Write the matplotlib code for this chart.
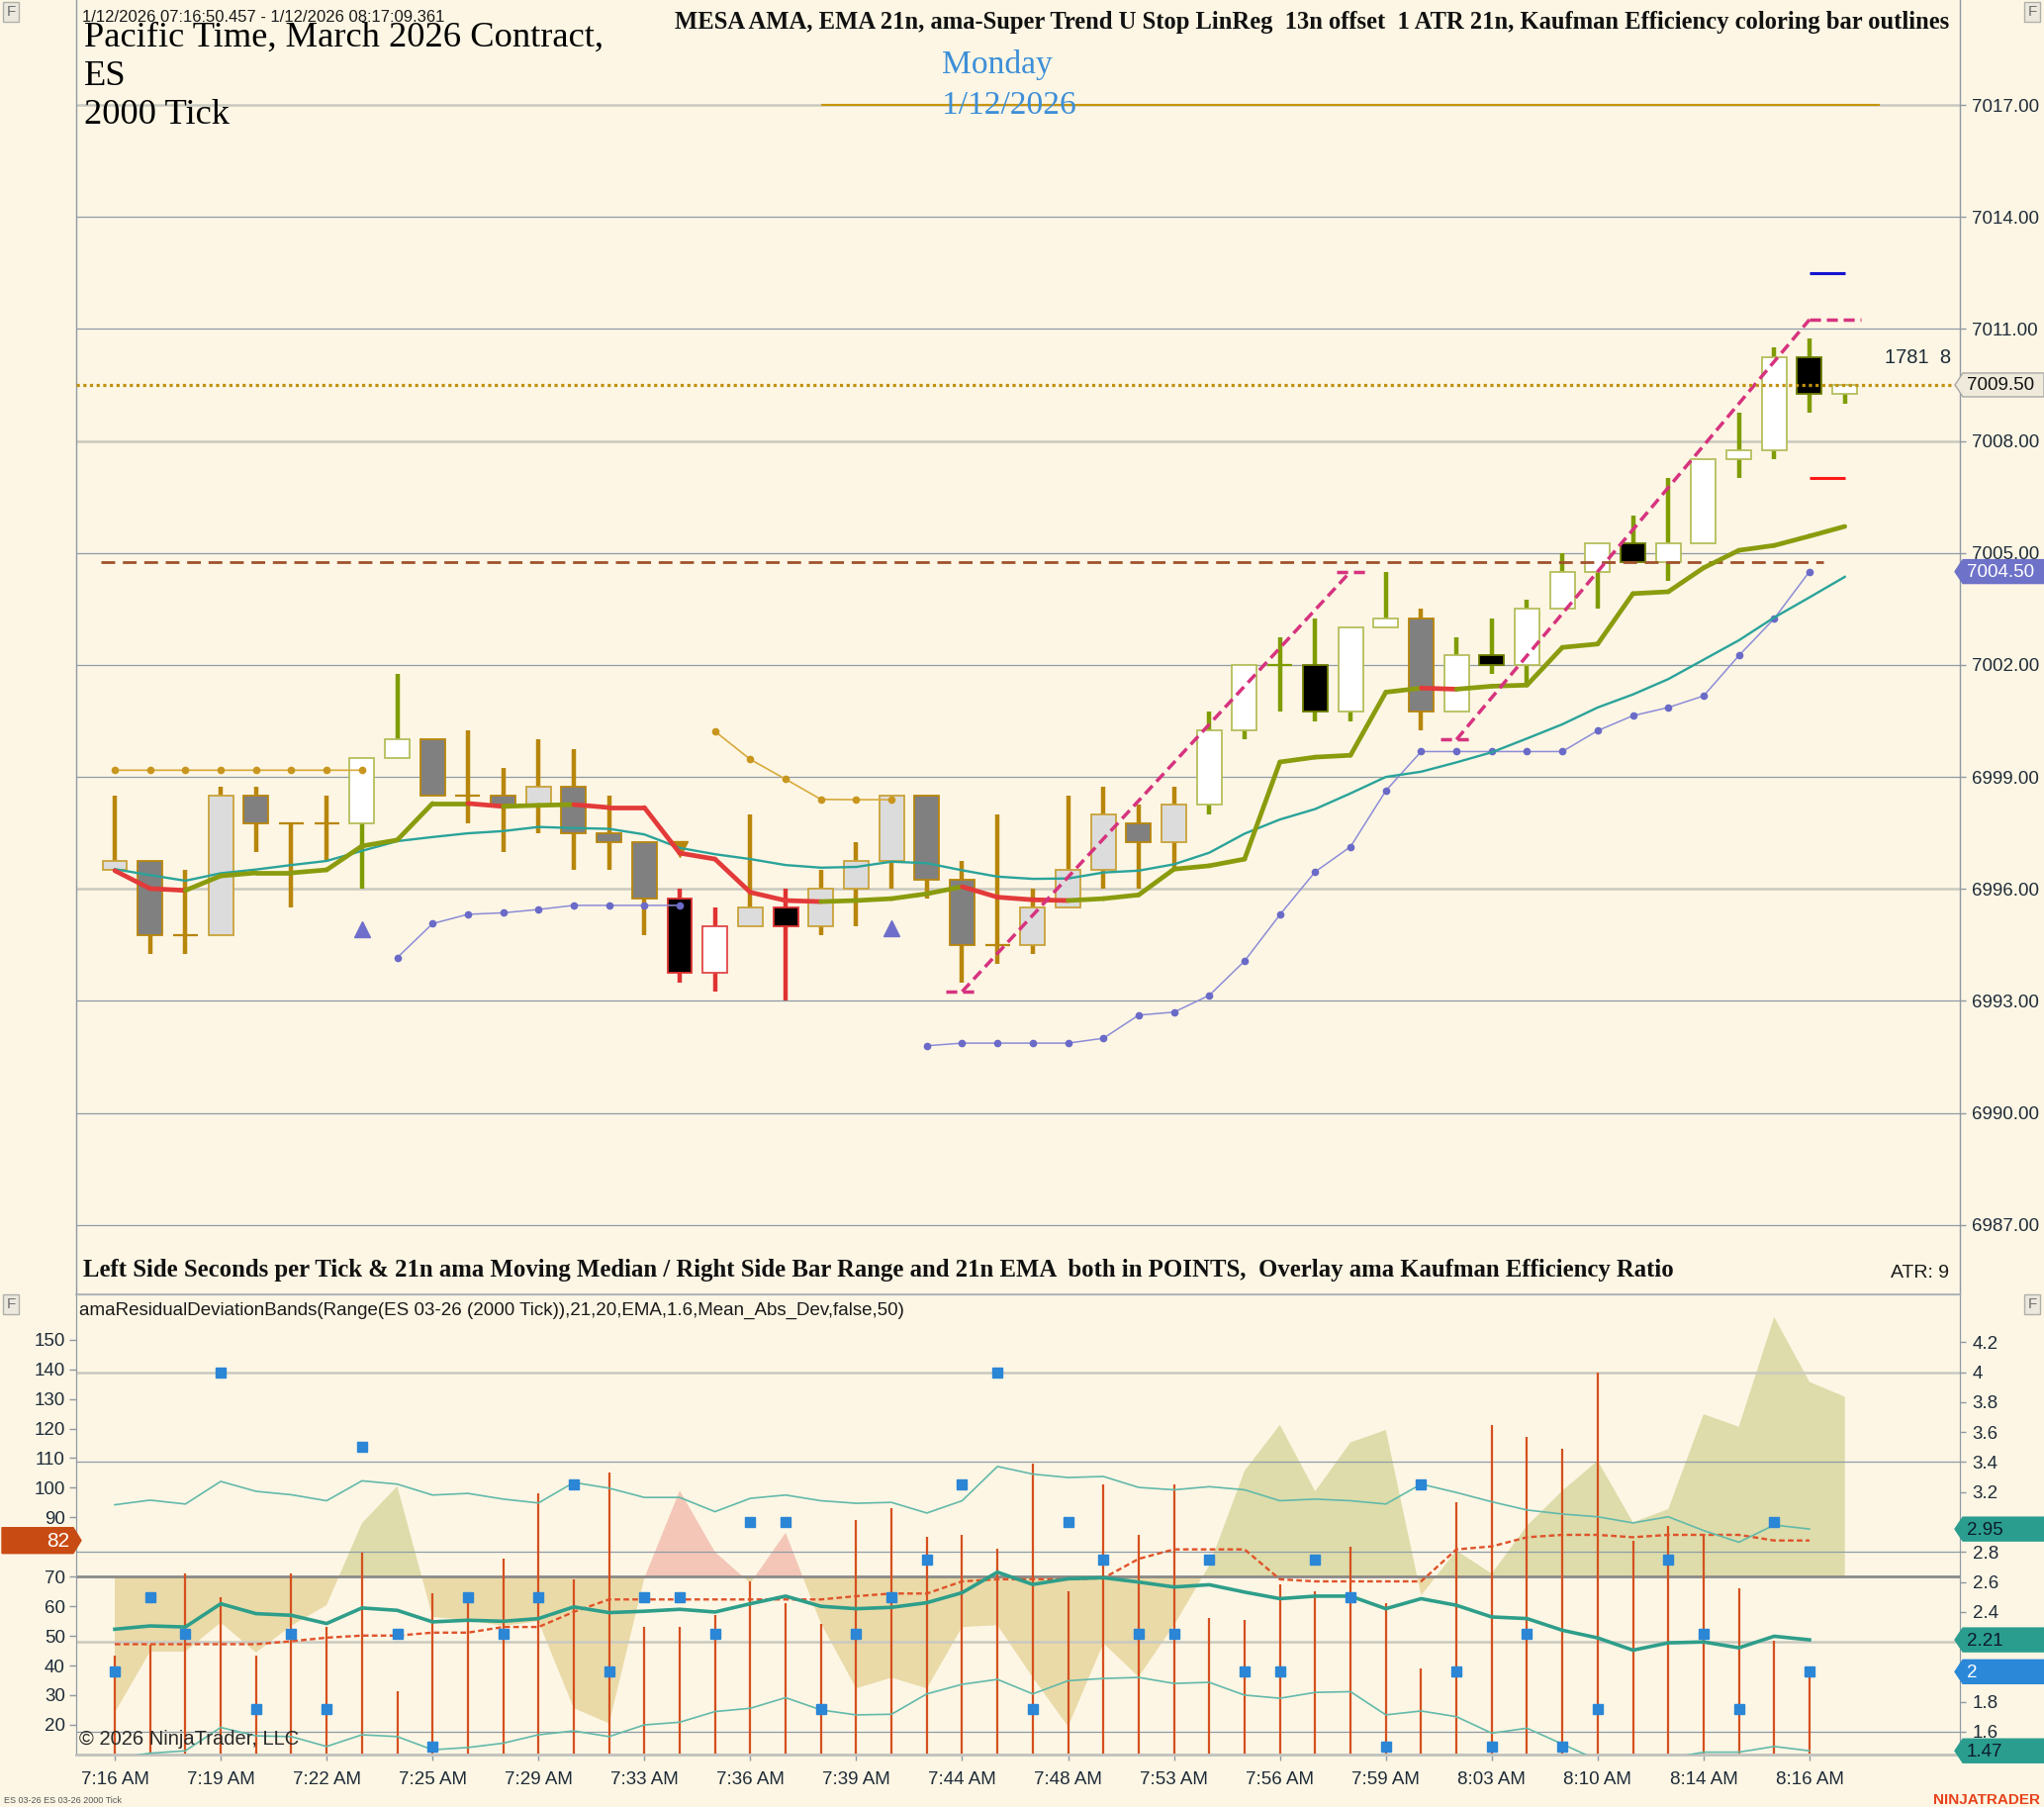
import numpy as np
import matplotlib
matplotlib.use("Agg")
import matplotlib.pyplot as plt
from matplotlib.patches import Rectangle, Polygon
from matplotlib.transforms import IdentityTransform
from matplotlib.ticker import FixedLocator, FuncFormatter

plt.rcParams['font.family'] = ['Liberation Sans', 'DejaVu Sans']

# ---------------------------------------------------------------- data
time_labels = ['7:16 AM', '7:19 AM', '7:22 AM', '7:25 AM', '7:29 AM', '7:33 AM',
               '7:36 AM', '7:39 AM', '7:44 AM', '7:48 AM', '7:53 AM', '7:56 AM',
               '7:59 AM', '8:03 AM', '8:10 AM', '8:14 AM', '8:16 AM']

opens = [6996.5, 6996.75, 6994.75, 6994.75, 6998.5, 6997.75, 6997.75, 6997.75, 6999.5, 7000.0,
         6998.5, 6998.5, 6998.25, 6998.75, 6997.5, 6997.25, 6995.75, 6993.75, 6995.0, 6995.5,
         6995.0, 6996.0, 6996.75, 6998.5, 6996.25, 6994.5, 6994.5, 6995.5, 6996.5, 6997.75,
         6997.25, 6998.25, 7000.25, 7002.0, 7002.0, 7000.75, 7003.0, 7003.25, 7000.75, 7002.25,
         7002.0, 7003.5, 7004.5, 7005.25, 7004.75, 7005.25, 7007.5, 7007.75, 7010.25, 7009.25]
highs = [6998.5, 6996.75, 6996.5, 6998.75, 6998.75, 6997.75, 6998.5, 6999.5, 7001.75, 7000.0,
         7000.25, 6999.25, 7000.0, 6999.75, 6998.5, 6997.25, 6996.0, 6995.5, 6998.0, 6996.0,
         6996.5, 6997.25, 6998.5, 6998.5, 6996.75, 6998.0, 6996.0, 6998.5, 6998.75, 6998.25,
         6998.75, 7000.75, 7002.0, 7002.75, 7003.25, 7003.0, 7004.5, 7003.5, 7002.75, 7003.25,
         7003.75, 7005.0, 7005.25, 7006.0, 7007.0, 7007.5, 7008.75, 7010.5, 7010.75, 7009.5]
lows = [6996.5, 6994.25, 6994.25, 6994.75, 6997.0, 6995.5, 6996.75, 6996.0, 6999.5, 6998.5,
        6997.75, 6997.0, 6997.5, 6996.5, 6996.5, 6994.75, 6993.5, 6993.25, 6995.0, 6993.0,
        6994.75, 6995.0, 6996.0, 6995.75, 6993.5, 6994.0, 6994.25, 6995.5, 6996.0, 6996.0,
        6996.5, 6998.0, 7000.0, 7000.75, 7000.5, 7000.5, 7003.0, 7000.25, 7000.75, 7001.75,
        7001.5, 7003.5, 7003.5, 7004.75, 7004.25, 7005.25, 7007.0, 7007.5, 7008.75, 7009.0]
closes = [6996.75, 6994.75, 6994.75, 6998.5, 6997.75, 6997.75, 6997.75, 6999.5, 7000.0, 6998.5,
          6998.5, 6998.25, 6998.75, 6997.5, 6997.25, 6995.75, 6993.75, 6995.0, 6995.5, 6995.0,
          6996.0, 6996.75, 6998.5, 6996.25, 6994.5, 6994.5, 6995.5, 6996.5, 6998.0, 6997.25,
          6998.25, 7000.25, 7002.0, 7002.0, 7000.75, 7003.0, 7003.25, 7000.75, 7002.25, 7002.0,
          7003.5, 7004.5, 7005.25, 7004.75, 7005.25, 7007.5, 7007.75, 7010.25, 7009.25, 7009.5]

# MESA AMA (thick line) and its trend state per segment
ama = [6996.49, 6996.01, 6995.96, 6996.35, 6996.43, 6996.43, 6996.51, 6997.15, 6997.31, 6998.29,
       6998.29, 6998.21, 6998.24, 6998.26, 6998.18, 6998.18, 6996.96, 6996.80, 6995.91, 6995.69,
       6995.66, 6995.69, 6995.74, 6995.87, 6996.06, 6995.78, 6995.71, 6995.69, 6995.74, 6995.84,
       6996.53, 6996.62, 6996.80, 6999.40, 6999.53, 6999.58, 7001.27, 7001.38, 7001.35, 7001.43,
       7001.46, 7002.47, 7002.56, 7003.91, 7003.96, 7004.60, 7005.07, 7005.20, 7005.45, 7005.71]
ama_trend = ['d', 'd', 'u', 'u', 'u', 'u', 'u', 'u', 'u', 'u',
             'd', 'u', 'u', 'd', 'd', 'd', 'd', 'd', 'd', 'd',
             'u', 'u', 'u', 'u', 'd', 'd', 'd', 'u', 'u', 'u',
             'u', 'u', 'u', 'u', 'u', 'u', 'u', 'd', 'u', 'u',
             'u', 'u', 'u', 'u', 'u', 'u', 'u', 'u', 'u', 'u']

ema21 = [6996.53, 6996.37, 6996.22, 6996.42, 6996.52, 6996.64, 6996.75, 6997.02, 6997.28, 6997.39,
         6997.49, 6997.55, 6997.66, 6997.63, 6997.61, 6997.46, 6997.10, 6996.93, 6996.80, 6996.64,
         6996.57, 6996.59, 6996.73, 6996.69, 6996.50, 6996.33, 6996.27, 6996.28, 6996.44, 6996.49,
         6996.66, 6996.97, 6997.48, 6997.86, 6998.14, 6998.56, 6999.00, 6999.14, 6999.39, 6999.66,
         7000.03, 7000.41, 7000.86, 7001.21, 7001.62, 7002.14, 7002.66, 7003.27, 7003.81, 7004.36]

N = None
stop_upper = [6999.18, 6999.18, 6999.18, 6999.18, 6999.18, 6999.18, 6999.18, 6999.18, N, N,
              N, N, N, N, N, N, N, 7000.22, 6999.47, 6998.94,
              6998.40, 6998.39, 6998.39, N, N, N, N, N, N, N,
              N, N, N, N, N, N, N, N, N, N,
              N, N, N, N, N, N, N, N, N, N]
stop_lower = [N, N, N, N, N, N, N, N, 6994.16, 6995.07,
              6995.32, 6995.36, 6995.45, 6995.56, 6995.56, 6995.56, 6995.56, N, N, N,
              N, N, N, 6991.80, 6991.87, 6991.87, 6991.87, 6991.87, 6992.00, 6992.62,
              6992.70, 6993.15, 6994.07, 6995.31, 6996.46, 6997.13, 6998.63, 6999.68, 6999.68, 6999.68,
              6999.68, 6999.68, 7000.24, 7000.64, 7000.86, 7001.17, 7002.25, 7003.24, 7004.50, N]

signal_up_bars = [7, 22]
signal_up_price = [6994.93, 6994.95]
signal_dn_bars = [16]
signal_dn_price = [6997.07]

linreg_start_bar = [24, 38]
linreg_end_bar = [35, 48]
linreg_start_price = [6993.25, 7000.0]
linreg_end_price = [7004.5, 7011.25]

level_brown = 7004.75
level_gold = 7017.0
target_high = 7012.5
target_low = 7007.0
price_ticks = [6987.0, 6990.0, 6993.0, 6996.0, 6999.0, 7002.0, 7005.0, 7008.0, 7011.0, 7014.0, 7017.0]

# lower panel
sec_per_tick = [43.2, 47.1, 71.2, 63.1, 43.2, 71.2, 53.0, 78.1, 31.2, 64.3,
                62.6, 76.0, 98.2, 69.1, 105.2, 53.0, 53.0, 57.0, 68.4, 61.1,
                53.9, 89.1, 93.0, 83.3, 84.1, 79.4, 108.0, 65.1, 101.0, 84.1,
                101.0, 56.2, 55.3, 67.3, 65.1, 80.0, 60.9, 39.0, 95.1, 121.2,
                117.2, 113.0, 139.0, 82.2, 87.2, 84.1, 65.9, 48.2, 37.9]
spt_median = [47.2, 47.2, 47.2, 47.2, 47.2, 48.2, 49.4, 50.1, 50.1, 51.1,
              51.1, 53.0, 53.0, 58.1, 62.3, 62.3, 62.3, 62.3, 62.3, 62.3,
              62.3, 63.4, 64.3, 64.3, 68.4, 69.1, 69.1, 69.1, 69.5, 76.0,
              79.2, 79.2, 79.2, 69.1, 68.4, 68.4, 68.4, 68.4, 79.2, 80.2,
              83.3, 84.1, 84.1, 83.3, 84.1, 84.1, 84.1, 82.2, 82.2]
bar_range = [2.0, 2.5, 2.25, 4.0, 1.75, 2.25, 1.75, 3.5, 2.25, 1.5,
             2.5, 2.25, 2.5, 3.25, 2.0, 2.5, 2.5, 2.25, 3.0, 3.0,
             1.75, 2.25, 2.5, 2.75, 3.25, 4.0, 1.75, 3.0, 2.75, 2.25,
             2.25, 2.75, 2.0, 2.0, 2.75, 2.5, 1.5, 3.25, 2.0, 1.5,
             2.25, 1.5, 1.75, 1.25, 2.75, 2.25, 1.75, 3.0, 2.0]
range_ema = [2.284, 2.306, 2.299, 2.454, 2.388, 2.377, 2.322, 2.426, 2.410, 2.333,
             2.344, 2.337, 2.355, 2.433, 2.395, 2.404, 2.417, 2.399, 2.454, 2.505,
             2.437, 2.421, 2.430, 2.461, 2.528, 2.665, 2.583, 2.621, 2.628, 2.599,
             2.566, 2.581, 2.532, 2.488, 2.505, 2.505, 2.421, 2.488, 2.444, 2.366,
             2.355, 2.277, 2.226, 2.144, 2.193, 2.199, 2.160, 2.237, 2.213]
band_upper = [3.115, 3.146, 3.120, 3.271, 3.205, 3.182, 3.142, 3.275, 3.253, 3.180,
              3.191, 3.153, 3.127, 3.264, 3.226, 3.164, 3.164, 3.069, 3.158, 3.180,
              3.142, 3.125, 3.131, 3.060, 3.142, 3.371, 3.320, 3.297, 3.304, 3.231,
              3.215, 3.236, 3.215, 3.142, 3.153, 3.142, 3.120, 3.253, 3.197, 3.135,
              3.080, 3.053, 3.035, 2.994, 3.035, 2.943, 2.865, 2.980, 2.953]
band_lower = [1.420, 1.456, 1.472, 1.628, 1.572, 1.567, 1.501, 1.579, 1.567, 1.479,
              1.494, 1.523, 1.579, 1.605, 1.567, 1.645, 1.663, 1.734, 1.756, 1.827,
              1.745, 1.712, 1.716, 1.852, 1.916, 1.949, 1.852, 1.940, 1.955, 1.962,
              1.922, 1.929, 1.844, 1.823, 1.862, 1.867, 1.712, 1.738, 1.700, 1.590,
              1.623, 1.517, 1.410, 1.390, 1.420, 1.463, 1.463, 1.501, 1.472]
eff_ratio = [24.1, 44.7, 44.7, 54.5, 44.4, 53.4, 60.4, 88.0, 100.5, 56.4,
             55.3, 53.4, 54.9, 25.6, 20.5, 69.5, 99.0, 78.3, 67.8, 84.8,
             54.2, 32.3, 35.9, 32.3, 53.0, 53.6, 36.0, 19.4, 47.5, 36.2,
             53.6, 73.8, 105.7, 121.2, 98.8, 115.3, 119.5, 63.7, 78.8, 71.0,
             87.2, 99.0, 109.1, 88.3, 92.8, 124.8, 120.6, 157.6, 135.7, 130.7]
eff_dir = [1] * 15 + [-1] * 6 + [1] * 29
eff_base = 70.0
left_ticks = [20, 30, 40, 50, 60, 70, 80, 90, 100, 110, 120, 130, 140, 150]
right_ticks = [1.6, 1.8, 2.0, 2.2, 2.4, 2.6, 2.8, 3.0, 3.2, 3.4, 3.6, 3.8, 4.0, 4.2]
left_hidden = [80]              # tick labels covered by value tags
right_hidden = [2.0, 2.2, 3.0]

# ---------------------------------------------------------------- styles
bar_tone = ['lg', 'dg', 'doji', 'lg', 'dg', 'doji', 'doji', 'white', 'white', 'dg',
            'doji', 'dg', 'lg', 'dg', 'dg', 'dg', 'black', 'white', 'lg', 'black',
            'lg', 'lg', 'lg', 'dg', 'dg', 'doji', 'lg', 'lg', 'lg', 'dg',
            'lg', 'white', 'white', 'doji', 'black', 'white', 'white', 'dg', 'white', 'black',
            'white', 'white', 'white', 'black', 'white', 'white', 'white', 'white', 'black', 'white']
bar_outline = ['g'] * 7 + ['o', 'o'] + ['g'] * 7 + ['r', 'r', 'g', 'r'] + ['g'] * 11 + ['o'] * 6 + ['g'] + ['o'] * 12

BG = '#FDF6E4'
WICK = {'g': '#B8860B', 'o': '#7F9C00', 'r': '#E03232'}
BODY = {'lg': '#DCDCDC', 'dg': '#808080', 'white': '#FFFFFF', 'black': '#000000'}
EDGE = {('lg', 'g'): '#C9A23A', ('dg', 'g'): '#B8860B', ('white', 'o'): '#B5BE5C',
        ('black', 'o'): '#6F7E00', ('black', 'r'): '#E03232', ('white', 'r'): '#E04848',
        ('white', 'g'): '#C9A23A'}
GRID_DARK = '#8E9CA6'
GRID_LIGHT = '#C9C9C0'
AXCOL = '#8F9AA3'
TXT = '#1E2B38'

W, H = 2066, 1826
fig = plt.figure(figsize=(W / 100, H / 100), dpi=100, facecolor=BG)

X_LEFT, X_RIGHT = 77, 1981
Y_SPLIT, Y_BOTTOM = 1308, 1773
ax = fig.add_axes([X_LEFT / W, 1 - Y_SPLIT / H, (X_RIGHT - X_LEFT) / W, Y_SPLIT / H])
axl = fig.add_axes([X_LEFT / W, 1 - Y_BOTTOM / H, (X_RIGHT - X_LEFT) / W, (Y_BOTTOM - Y_SPLIT) / H])
axr = axl.twinx()

xlim = (-1.093, 52.26)
x = np.arange(len(opens))

# ---------------------------------------------------------------- main panel
ax.set_facecolor(BG)
ax.set_xlim(*xlim)
ax.set_ylim(6985.14, 7019.81)
ax.set_xticks([])
ax.yaxis.tick_right()
ax.yaxis.set_major_locator(FixedLocator(price_ticks))
ax.yaxis.set_major_formatter(FuncFormatter(lambda v, p: f"{v:.2f}"))
ax.tick_params(axis='y', direction='out', length=4, width=1, color=AXCOL, pad=5,
               labelsize=13.5, labelcolor=TXT)
ax.spines['top'].set_visible(False)
for s in ('left', 'right'):
    ax.spines[s].set_color(AXCOL)
    ax.spines[s].set_linewidth(1.0)
ax.spines['bottom'].set_color('#A9B1B8')
ax.spines['bottom'].set_linewidth(1.2)

light_levels = [7017.0, 7008.0, 6996.0]
for p in price_ticks:
    if p in light_levels:
        ax.axhline(p, color=GRID_LIGHT, lw=1.8, zorder=0.5)
    else:
        ax.axhline(p, color=GRID_DARK, lw=0.9, zorder=0.5)

# candles
bw = 0.70
for i in range(len(opens)):
    o, h, l, c = opens[i], highs[i], lows[i], closes[i]
    tone, oc = bar_tone[i], bar_outline[i]
    wc = WICK[oc]
    ax.vlines(i, l, h, color=wc, lw=3.2, zorder=2)
    if tone == 'doji' or o == c:
        ax.hlines(o, i - bw / 2, i + bw / 2, color=wc, lw=1.6, zorder=3)
    else:
        ec = EDGE.get((tone, oc), wc)
        ax.add_patch(Rectangle((i - bw / 2, min(o, c)), bw, abs(c - o), facecolor=BODY[tone],
                               edgecolor=ec, lw=1.3, zorder=3))

# levels
ax.hlines(level_gold, 20.0, 50.0, color='#C8960C', lw=1.5, zorder=1)
ax.hlines(level_brown, -0.4, 48.4, color='#A0522D', lw=2.0, linestyles=(0, (5.0, 2.8)), zorder=5)

# stops
su = np.array([np.nan if v is None else v for v in stop_upper])
sl = np.array([np.nan if v is None else v for v in stop_lower])
ax.plot(x, su, color='#D8AA3C', lw=1.2, marker='o', ms=4.5, mfc='#C8961E', mec='#C8961E', zorder=6)
ax.plot(x, sl, color='#8C8CD8', lw=1.1, marker='o', ms=4.5, mfc='#6A6AC8', mec='#6A6AC8', zorder=6)

# EMA 21
ax.plot(x, ema21, color='#2AA39A', lw=1.7, zorder=6)

# signals
ax.plot(signal_dn_bars, signal_dn_price, 'v', color='#B8860B', ms=11, zorder=5)
ax.plot(signal_up_bars, signal_up_price, '^', color='#6F6FCB', ms=12, zorder=6)

# MESA AMA thick line with trend colours
for i in range(len(ama) - 1):
    col = '#8A9C0E' if ama_trend[i] == 'u' else '#E33A3A'
    ax.plot([i, i + 1], [ama[i], ama[i + 1]], color=col, lw=3.4, solid_capstyle='round', zorder=7)

# LinReg lines
for k in range(len(linreg_start_bar)):
    s0, s1 = linreg_start_bar[k], linreg_end_bar[k]
    p0, p1 = linreg_start_price[k], linreg_end_price[k]
    kw = dict(color='#D6337F', lw=2.5, linestyle=(0, (3.2, 1.7)), zorder=8)
    ax.plot([s0 - 0.45, s0 + 0.5], [p0, p0], **kw)
    ax.plot([s0, s1], [p0, p1], **kw)
    right_end = s1 + (1.45 if k == 1 else 0.5)
    ax.plot([s1 - (0 if k == 1 else 0.4), right_end], [p1, p1], **kw)

# targets on last bars
ax.hlines(target_high, 48, 49, color='#1515D0', lw=2.2, zorder=8)
ax.hlines(target_low, 48, 49, color='#FF1A1A', lw=2.2, zorder=8)

# current price line
ax.axhline(closes[-1], color='#C09010', lw=2.3, linestyle=(0, (1, 1.1)), zorder=9)

# ---------------------------------------------------------------- lower panel
axl.set_facecolor(BG)
axl.set_xlim(*xlim)
axl.set_ylim(9.95, 165.26)
axr.set_ylim(1.447, 4.52)
axl.yaxis.set_major_locator(FixedLocator(left_ticks))
axl.yaxis.set_major_formatter(FuncFormatter(
    lambda v, p: '' if any(abs(v - h) < 1e-6 for h in left_hidden) else f"{v:.0f}"))
axr.yaxis.set_major_locator(FixedLocator(right_ticks))
axr.yaxis.set_major_formatter(FuncFormatter(
    lambda v, p: '' if any(abs(v - h) < 1e-6 for h in right_hidden) else f"{round(v, 2):g}"))
axl.set_xticks(x[::3][:len(time_labels)])
axl.set_xticklabels(time_labels)
axl.tick_params(axis='x', direction='out', length=4, width=1, color=AXCOL, pad=8,
                labelsize=13.5, labelcolor=TXT)
axl.tick_params(axis='y', direction='out', length=5, width=1, color=AXCOL, pad=3,
                labelsize=13.5, labelcolor=TXT)
axr.tick_params(axis='y', direction='out', length=4, width=1, color=AXCOL, pad=5,
                labelsize=13.5, labelcolor=TXT)
for a in (axl, axr):
    a.spines['top'].set_color('#A9B1B8')
    a.spines['left'].set_color(AXCOL)
    a.spines['right'].set_color(AXCOL)
    a.spines['bottom'].set_color('#C4C4BE')
    a.spines['bottom'].set_linewidth(2.0)

l0, l1 = axl.get_ylim()
r0, r1 = axr.get_ylim()
def r2l(v):
    return l0 + (v - r0) / (r1 - r0) * (l1 - l0)

er = np.array(eff_ratio)
xe = np.arange(len(er))
dirs = np.array(eff_dir)
axl.fill_between(xe, er, eff_base, where=(er <= eff_base), interpolate=True,
                 color='#EADAA8', lw=0, zorder=0.6)
axl.fill_between(xe, er, eff_base, where=(er >= eff_base) & (dirs > 0), interpolate=True,
                 color='#DDDCAA', lw=0, zorder=0.6)
axl.fill_between(xe, er, eff_base, where=(er >= eff_base) & (dirs < 0), interpolate=True,
                 color='#F3C6B8', lw=0, zorder=0.6)

for v, light in [(4.0, True), (3.4, False), (2.8, False), (2.2, True), (1.6, False)]:
    if light:
        axl.axhline(r2l(v), color=GRID_LIGHT, lw=1.8, zorder=1)
    else:
        axl.axhline(r2l(v), color=GRID_DARK, lw=0.9, zorder=1)
axl.axhline(eff_base, color='#8A8A88', lw=2.0, zorder=1)

xs = np.arange(len(sec_per_tick))
axl.vlines(xs, l0, sec_per_tick, color='#D5501E', lw=1.6, zorder=2)
axl.plot(np.arange(len(spt_median)), spt_median, color='#E0522A', lw=1.7,
         linestyle=(0, (2.4, 1.4)), zorder=3)

xr = np.arange(len(range_ema))
axr.plot(xr, band_upper, color='#63B9AA', lw=1.2, zorder=3)
axr.plot(xr, band_lower, color='#63B9AA', lw=1.2, zorder=3)
axr.plot(xr, range_ema, color='#2E9E8A', lw=2.6, zorder=4)
axr.plot(np.arange(len(bar_range)), bar_range, 's', ms=7.2, color='#2B86D6', zorder=5)

# ---------------------------------------------------------------- value tags
ID = IdentityTransform()

def tag_right(a, val, text, fc, tc, ec=None, tip=1976, end=2066, hh=12):
    yd = a.transData.transform((0, val))[1]
    verts = [(tip, yd), (tip + 8, yd + hh), (end, yd + hh), (end, yd - hh), (tip + 8, yd - hh)]
    fig.add_artist(Polygon(verts, closed=True, transform=ID, facecolor=fc,
                           edgecolor=ec or fc, lw=1, zorder=20))
    fig.text(tip + 12, yd - 1, text, transform=ID, ha='left', va='center', fontsize=13.5,
             color=tc, zorder=21)

def tag_left(a, val, text, fc, tc, start=2, tip=82, hh=13):
    yd = a.transData.transform((0, val))[1]
    verts = [(start, yd - hh), (start, yd + hh), (tip - 8, yd + hh), (tip, yd), (tip - 8, yd - hh)]
    fig.add_artist(Polygon(verts, closed=True, transform=ID, facecolor=fc,
                           edgecolor=fc, lw=1, zorder=20))
    fig.text(tip - 12, yd - 1, text, transform=ID, ha='right', va='center', fontsize=15,
             color=tc, zorder=21)

tag_right(ax, closes[-1], f"{closes[-1]:.2f}", '#EFEADB', '#111111', ec='#A8A8A8')
tag_right(ax, stop_lower[-2], f"{stop_lower[-2]:.2f}", '#6E72C8', '#FFFFFF')
tag_right(axr, band_upper[-1], f"{band_upper[-1]:.2f}", '#2A9D8F', '#0D1B2A')
tag_right(axr, range_ema[-1], f"{range_ema[-1]:.2f}", '#2A9D8F', '#0D1B2A')
tag_right(axr, bar_range[-1], f"{bar_range[-1]:g}", '#2B88D8', '#FFFFFF')
tag_right(axr, band_lower[-1], f"{band_lower[-1]:.2f}", '#2A9D8F', '#0D1B2A')
tag_left(axl, spt_median[-1], f"{spt_median[-1]:.0f}", '#C84B14', '#FFFFFF')

# ---------------------------------------------------------------- texts
def ftext(px, py, s, **kw):
    return fig.text(px / W, 1 - py / H, s, **kw)

renderer = fig.canvas.get_renderer()
def fit(t, width_px):
    bb = t.get_window_extent(renderer=renderer)
    t.set_fontsize(t.get_fontsize() * width_px / bb.width)

ftext(83, 22, '1/12/2026 07:16:50.457 - 1/12/2026 08:17:09.361', fontsize=12, color='#1A1A1A',
      va='baseline')
serif = ['Liberation Serif', 'DejaVu Serif']
t = ftext(85, 47, 'Pacific Time, March 2026 Contract,', fontsize=24, family=serif,
          color='#000000', va='baseline')
fit(t, 525)
ftext(85, 86, 'ES', fontsize=t.get_fontsize(), family=serif, color='#000000', va='baseline')
ftext(85, 125, '2000 Tick', fontsize=t.get_fontsize(), family=serif, color='#000000', va='baseline')

t = ftext(1970, 29, 'MESA AMA, EMA 21n, ama-Super Trend U Stop LinReg  13n offset  1 ATR 21n, '
          'Kaufman Efficiency coloring bar outlines', fontsize=15.5, family=serif,
          weight='bold', color='#111111', ha='right', va='baseline')
fit(t, 1287)

t = ftext(952, 74, 'Monday', fontsize=25, family=serif, color='#3D8FD8', va='baseline')
fit(t, 112)
ftext(952, 115, '1/12/2026', fontsize=t.get_fontsize(), family=serif, color='#3D8FD8',
      va='baseline')

t = ftext(84, 1290, 'Left Side Seconds per Tick & 21n ama Moving Median / Right Side Bar Range '
          'and 21n EMA  both in POINTS,  Overlay ama Kaufman Efficiency Ratio',
          fontsize=17, family=serif, weight='bold', color='#111111', va='baseline')
fit(t, 1608)
ftext(1970, 1291, 'ATR: 9', fontsize=14, color='#1A1A1A', ha='right', va='baseline')
ftext(1905, 367, '1781  8', fontsize=14.5, color='#1E2B38', va='baseline')

ftext(80, 1329, 'amaResidualDeviationBands(Range(ES 03-26 (2000 Tick)),21,20,EMA,1.6,'
      'Mean_Abs_Dev,false,50)', fontsize=13.5, color='#1A1A1A', va='baseline')
ftext(80, 1763, '\u00a9 2026 NinjaTrader, LLC', fontsize=14.5, color='#2A2A2A', va='baseline')
ftext(4, 1822, 'ES 03-26 ES 03-26 2000 Tick', fontsize=6.5, color='#555555', va='baseline')
ftext(2062, 1823, 'NINJATRADER', fontsize=11, weight='bold', color='#E8421C', ha='right',
      va='baseline')

fbox = dict(boxstyle='square,pad=0.2', facecolor='#ECE8DD', edgecolor='#B0B0AA', lw=1)
for px, py in [(11, 12), (2054, 12), (11, 1318), (2054, 1318)]:
    ftext(px, py, 'F', fontsize=11, color='#707070', ha='center', va='center', bbox=fbox)

fig.savefig('out.png', dpi=100, facecolor=BG)
